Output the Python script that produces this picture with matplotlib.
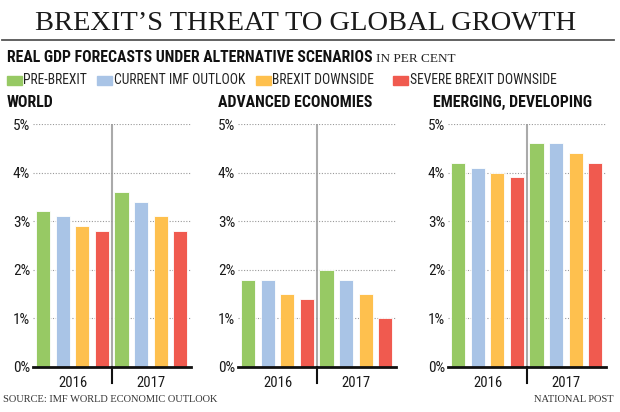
import numpy as np
import matplotlib
matplotlib.use("Agg")
import matplotlib.pyplot as plt
from matplotlib.patches import Rectangle

# ---------- data ----------
scenarios = ["PRE-BREXIT", "CURRENT IMF OUTLOOK", "BREXIT DOWNSIDE", "SEVERE BREXIT DOWNSIDE"]
colors = ["#97c964", "#a9c4e6", "#fec04e", "#f05a4f"]
years = ["2016", "2017"]
panels = ["WORLD", "ADVANCED ECONOMIES", "EMERGING, DEVELOPING"]

world_2016 = [3.2, 3.1, 2.9, 2.8]
world_2017 = [3.6, 3.4, 3.1, 2.8]
adv_2016 = [1.8, 1.8, 1.5, 1.4]
adv_2017 = [2.0, 1.8, 1.5, 1.0]
emg_2016 = [4.2, 4.1, 4.0, 3.9]
emg_2017 = [4.6, 4.6, 4.4, 4.2]

yticks = [0, 1, 2, 3, 4, 5]

COND = "Roboto Condensed"
SERIF = "Liberation Serif"

W, H = 620, 412
fig = plt.figure(figsize=(W / 100, H / 100), dpi=100)
fig.patch.set_facecolor("white")


def px(x, y):
    return x / W, 1 - y / H


# header
fig.text(*px(306, 23), "BREXIT\u2019S THREAT TO GLOBAL GROWTH", family=SERIF,
         fontsize=20.5, ha="center", va="center", color="#1a1a1a")
fig.add_artist(plt.Line2D([2 / W, 614 / W], [1 - 40 / H] * 2, color="#555555", lw=1.3))
fig.text(*px(7, 58), "REAL GDP FORECASTS UNDER ALTERNATIVE SCENARIOS", family=COND,
         weight="bold", fontsize=11.3, va="center", color="#111111")
fig.text(*px(376, 59), "IN PER CENT", family=SERIF, fontsize=9.5, va="center", color="#222222")

# legend
leg_sq = [7, 97, 256, 393]
for x0, lab, c in zip(leg_sq, scenarios, colors):
    fig.add_artist(Rectangle(px(x0, 85), 15 / W, 9 / H, color=c, transform=fig.transFigure))
    fig.text(*px(x0 + 16.5, 80.5), lab, family=COND, fontsize=9.8, va="center", color="#222222")

# panels
series = [(world_2016, world_2017), (adv_2016, adv_2017), (emg_2016, emg_2017)]
lefts = [33, 238, 448]
title_x = [7, 218, 433]
for k, (left, (v16, v17)) in enumerate(zip(lefts, series)):
    fig.text(*px(title_x[k], 102.5), panels[k], family=COND, weight="bold",
             fontsize=11.4, va="center", color="#111111")
    x0, y0 = px(left, 367)
    ax = fig.add_axes([x0, y0, 158 / W, (367 - 124) / H])
    vals = list(v16) + list(v17)
    xs = np.arange(8)
    ax.bar(xs, vals, width=0.72, color=colors * 2, edgecolor="white", linewidth=0.6, zorder=2)
    ax.set_xlim(-0.52, 7.55)
    ax.set_ylim(0, 5)
    ax.set_yticks(yticks)
    ax.set_yticklabels([f"{t}%" for t in yticks], family=COND, fontsize=11, color="#1a1a1a")
    ax.yaxis.grid(True, linestyle=(0, (1, 1.5)), color="#999999", lw=0.8, zorder=0)
    ax.tick_params(axis="y", length=0, pad=2)
    ax.set_xticks([])
    for s in ["top", "right", "left"]:
        ax.spines[s].set_visible(False)
    ax.spines["bottom"].set_linewidth(2)
    ax.spines["bottom"].set_color("#111111")
    ax.spines["bottom"].set_zorder(3)
    ax.axvline(3.5, ymin=0, ymax=1, color="#aaaaaa", lw=1.5, zorder=1)
    ax.plot([3.5, 3.5], [0, -0.065], transform=ax.get_xaxis_transform(),
            color="#111111", lw=1.5, clip_on=False)
    for yr, cx in zip(years, [1.5, 5.5]):
        ax.text(cx, -0.035, yr, transform=ax.get_xaxis_transform(), ha="center", va="top",
                family=COND, fontsize=10.5, color="#1a1a1a")

# footer
fig.text(*px(3, 400), "SOURCE: IMF WORLD ECONOMIC OUTLOOK", family=SERIF, fontsize=7.5,
         va="center", color="#333333")
fig.text(*px(614, 400), "NATIONAL POST", family=SERIF, fontsize=7.5, ha="right",
         va="center", color="#333333")

fig.savefig("out.png", dpi=100)
